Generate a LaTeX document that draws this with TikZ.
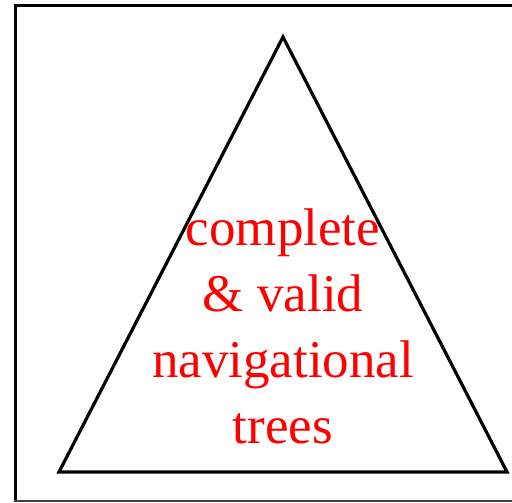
\documentclass[tikz,border=0pt]{standalone}
\usepackage{fontspec}
\setmainfont{Liberation Serif}
\begin{document}
\begin{tikzpicture}[x=1pt,y=1pt,
  frameline/.style={line width=3.5pt,black},
  tri/.style={line width=3.2pt,black,line join=miter},
  label/.style={text=red,font=\fontsize{53}{66}\selectfont,anchor=base,inner sep=0pt}]
\useasboundingbox (0,0) rectangle (512,503);
\begin{scope}
\clip (0,0) rectangle (512,503);
% outer frame
\draw[frameline] (15.5,2) -- (15.5,497.5) -- (520,497.5);
\draw[line width=1.2pt,black!75] (14,2) -- (520,2);
\end{scope}
% triangle
\coordinate (apex) at (283,466);
\coordinate (bl) at (59,31);
\coordinate (br) at (507,31);
\draw[tri] (apex) -- (bl) -- (br) -- cycle;
% text lines
\node[label] (l1) at (283,257) {complete};
\node[label] (l2) at (283,191) {\& valid};
\node[label] (l3) at (283,125) {navigational};
\node[label] (l4) at (283,59) {trees};
\end{tikzpicture}
\end{document}
